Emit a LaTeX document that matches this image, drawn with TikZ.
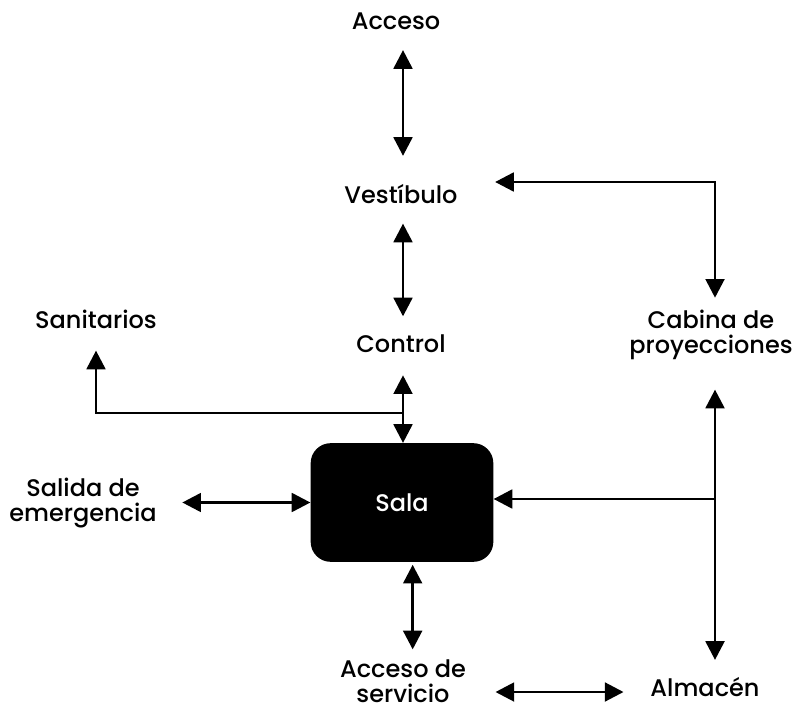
\documentclass[tikz,border=0pt]{standalone}
\usepackage{fontspec}
\setmainfont{Poppins}[UprightFont=*-Medium]
\usetikzlibrary{arrows.meta}

\begin{document}
\begin{tikzpicture}[x=0.75pt,y=-0.75pt,
    >={Triangle[length=14pt,width=14pt]},
    every node/.style={font=\fontsize{18}{19}\selectfont},
    zona/.style={inner sep=0pt,text height=12.5pt,text depth=0pt,align=center},
    salabox/.style={fill=black,text=white,rounded corners=15pt,
        minimum width=137pt,minimum height=89pt},
    flujo/.style={line width=2.2pt}
]
    \useasboundingbox (0,0) rectangle (795,710);

    \node [zona] (acceso) at (396,21.5) {Acceso};
    \node [zona] (vest) at (401,195) {Vestíbulo};
    \node [zona] (control) at (401,344) {Control};
    \node [zona] (sanit) at (96,320) {Sanitarios};
    \node [zona] (cabina) at (711,345) {Cabina de\\proyecciones};
    \node [zona] (salida) at (83,513) {Salida de\\emergencia};
    \node [salabox] (sala) at (402,502.5) {Sala};
    \node [zona] (servicio) at (403,694) {Acceso de\\servicio};
    \node [zona] (almacen) at (705,688.5) {Almacén};

    % puntos de giro
    \coordinate (cturn) at (715,182);
    \coordinate (jsan) at (403,413);
    \coordinate (jcab) at (715,499);

    \draw [flujo,<->,shorten <=22.9pt,shorten >=15pt]
        (vest.north -| jsan) -- (acceso.south -| jsan);
    \draw [flujo,<->,shorten <=15pt,shorten >=14.3pt]
        (vest.south -| jsan) -- (control.north -| jsan);
    \draw [flujo,<->,shorten <=17pt] (control.south -| jsan) -- (sala.north -| jsan);
    \draw [flujo,->,shorten >=16.5pt] (jsan) -| (sanit.south);
    \draw [flujo,<->,shorten <=28pt,shorten >=29pt]
        (vest.east |- cturn) -- (cturn) -- (cabina.north -| cturn);
    \draw [flujo,<->,shorten <=19pt] (salida.east |- sala) -- (sala.west);
    \draw [flujo,<->,shorten <=27pt,shorten >=15pt]
        (cabina.south -| cturn) -- (almacen.north -| cturn);
    \draw [flujo,->] (jcab) -- (sala.east |- jcab);
    \draw [flujo,<->,shorten <=2pt,shorten >=27pt]
        ([xshift=8pt]sala.south) -- ([xshift=8pt]sala.south |- servicio.north);
    \draw [flujo,<->,shorten <=22pt,shorten >=20pt]
        (servicio.east |- 0,692) -- (almacen.west |- 0,692);
\end{tikzpicture}
\end{document}
